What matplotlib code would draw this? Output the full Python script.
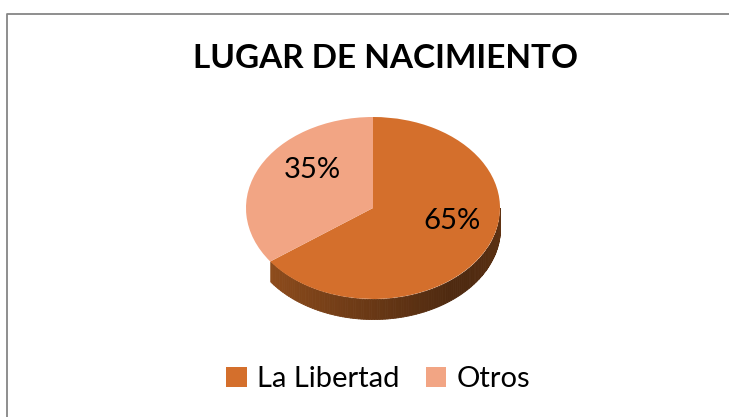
import numpy as np
import matplotlib
matplotlib.use('Agg')
import matplotlib.pyplot as plt
from matplotlib.patches import Patch
from matplotlib.colors import to_rgb

# data
labels = ['La Libertad', 'Otros']
values = [65, 35]
colors = ['#D46F2C', '#F2A584']
title = 'LUGAR DE NACIMIENTO'

FONT = 'Lato'
W, H = 729, 417
DEPTH = 0.22  # thickness of the pie rim, in pie radius units (y)

fig = plt.figure(figsize=(W / 100, H / 100), dpi=100)
fig.patch.set_facecolor('white')

# border (only left and top visible in the reference)
bg = fig.add_axes([0, 0, 1, 1])
bg.set_xlim(0, W)
bg.set_ylim(H, 0)
bg.axis('off')
bg.plot([7, 7, W + 5], [H + 5, 14, 14], color='#868686', lw=1.3)

# pie axes: ellipse centre (373, 208), semi axes 127 x 91 px
cx, cy, a, b = 373, 208, 127, 91
depth_px = DEPTH * b
ax = fig.add_axes([(cx - a) / W, (H - (cy + b + depth_px)) / H,
                   2 * a / W, (2 * b + depth_px) / H])
wedges, _ = ax.pie(values, colors=colors, startangle=90, counterclock=False,
                   radius=1, center=(0, 0), wedgeprops=dict(linewidth=0, zorder=3))
ax.set_aspect('auto')
ax.set_xlim(-1, 1)
ax.set_ylim(-1 - DEPTH, 1)
ax.axis('off')

# rim of the pie (front half, La Libertad side only) with a shaded gradient
frac = np.cumsum(values) / sum(values)
t0 = np.deg2rad(90 - 360 * frac[0]) + 2 * np.pi  # boundary angle (~216 deg)
th = np.linspace(t0, 2 * np.pi, 120)
c_light = np.array(to_rgb('#8E4C1C'))
c_dark = np.array(to_rgb('#4F2A10'))
for i in range(len(th) - 1):
    tt = np.linspace(th[i], th[i + 1], 3)
    x = np.cos(tt)
    y = np.sin(tt)
    s = (th[i] - t0) / (2 * np.pi - t0)
    w = np.clip(s * 1.6, 0, 1) if s < 0.7 else 1 - (s - 0.7) * 0.9
    col = c_light * (1 - w) + c_dark * w
    ax.fill_between(x, y - DEPTH, y, color=col, lw=0.6, edgecolor=col, zorder=1)

# percentage labels
ax.text(-0.48, 0.42, '35%', ha='center', va='center', fontsize=21,
        family=FONT, color='black', zorder=5)
ax.text(0.62, -0.14, '65%', ha='center', va='center', fontsize=21,
        family=FONT, color='black', zorder=5)

fig.text(386 / W, 1 - 58 / H, title, ha='center', va='center', fontsize=24,
         fontweight='bold', family=FONT)

handles = [Patch(facecolor=c, edgecolor='none') for c in colors]
fig.legend(handles, labels, loc='center', bbox_to_anchor=(378 / W, 1 - 379 / H),
           ncol=2, frameon=False, prop={'family': FONT, 'size': 21},
           handlelength=0.7, handleheight=0.7, handletextpad=0.35,
           columnspacing=0.9)

fig.savefig('out.png', dpi=100)
